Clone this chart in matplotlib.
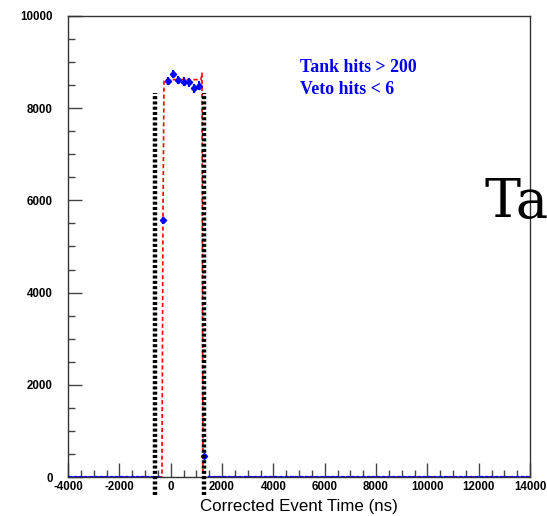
import numpy as np
import matplotlib
matplotlib.use("Agg")
import matplotlib.pyplot as plt
from matplotlib.ticker import MultipleLocator, FixedLocator

plt.rcParams['lines.scale_dashes'] = False

# Histogram binning (ns)
bin_width = 200
x_min, x_max = -4000, 14000

# Non-empty bins: centres and counts
filled_centres = [-300, -100, 100, 300, 500, 700, 900, 1100, 1300]
filled_counts = [5570, 8590, 8740, 8610, 8575, 8560, 8430, 8490, 460]

# Fitted window shape (knots of the red dashed curve)
fit_x = [-4000, -340, -300, -260, 1180, 1220, 1240, 1260, 14000]
fit_y = [0, 0, 5570, 8620, 8620, 8760, 4000, 0, 0]

# Time-window cut positions
cut_positions = [-600, 1280]
cut_top = 8330
cut_bottom = -390

# Axis ticks
x_ticks = [-4000, -2000, 0, 2000, 4000, 6000, 8000, 10000, 12000, 14000]
y_ticks = [0, 2000, 4000, 6000, 8000, 10000]

label_lines = ["Tank hits > 200", "Veto hits < 6"]

edges = np.arange(x_min, x_max + bin_width, bin_width)
centres = edges[:-1] + bin_width / 2
counts = np.zeros(len(centres))
for c, n in zip(filled_centres, filled_counts):
    counts[np.argmin(np.abs(centres - c))] = n
errors = np.sqrt(counts)

fig = plt.figure(figsize=(5.47, 5.16), dpi=100)
ax = fig.add_axes([68 / 547, 39 / 516, 462 / 547, 461 / 516])

ax.plot(fit_x, fit_y, color="red", lw=1.2, linestyle=(0, (3.0, 2.0)), zorder=2)

ax.errorbar(centres, counts, yerr=errors, xerr=bin_width / 2 * 0.55,
            fmt="none", ecolor="#0000ff", elinewidth=1.6, zorder=3)
# zero bins form a continuous baseline
zero = counts == 0
ax.errorbar(centres[zero], counts[zero], xerr=bin_width / 2, fmt="none",
            ecolor="#0000ff", elinewidth=1.8, zorder=3)
nz = counts > 0
ax.plot(centres[nz], counts[nz], "D", color="#0000ff", ms=3.2, zorder=4)

for xc in cut_positions:
    ax.plot([xc, xc], [cut_bottom, cut_top], color="black", lw=3.2,
            linestyle=(0, (2.2, 1.6)), clip_on=False, zorder=5)

ax.set_xlim(x_min, x_max)
ax.set_ylim(0, 10000)
ax.xaxis.set_major_locator(FixedLocator(x_ticks))
ax.yaxis.set_major_locator(FixedLocator(y_ticks))
ax.xaxis.set_minor_locator(MultipleLocator(500))
ax.yaxis.set_minor_locator(MultipleLocator(500))
ax.tick_params(which="major", direction="in", length=10, width=1, color="#444444",
               top=False, right=False)
ax.tick_params(which="minor", direction="in", length=5, width=1, color="#444444",
               top=False, right=False)
ax.tick_params(axis="x", which="major", pad=3)
ax.tick_params(axis="y", which="major", pad=11)
ax.set_xticklabels([str(t) for t in x_ticks],
                   fontsize=8.3, fontweight="bold", family="Liberation Sans")
ax.set_yticklabels([str(t) for t in y_ticks],
                   fontsize=8.3, fontweight="bold", family="Liberation Sans")
for s in ax.spines.values():
    s.set_color("#333333")
    s.set_linewidth(1)

ax.set_xlabel("Corrected Event Time (ns)", fontsize=12.2, family="Liberation Sans",
              labelpad=4)

fig.text(300 / 547, 1 - 67 / 516, label_lines[0], color="#0000ee", fontsize=12.8,
         fontweight="bold", family="Liberation Serif", va="center", ha="left")
fig.text(300 / 547, 1 - 89 / 516, label_lines[1], color="#0000ee", fontsize=12.8,
         fontweight="bold", family="Liberation Serif", va="center", ha="left")

fig.text(485 / 547, 1 - 203 / 516, "Ta", fontsize=39, family="DejaVu Serif",
         va="center", ha="left", color="black")

fig.savefig("out.png", dpi=100)
